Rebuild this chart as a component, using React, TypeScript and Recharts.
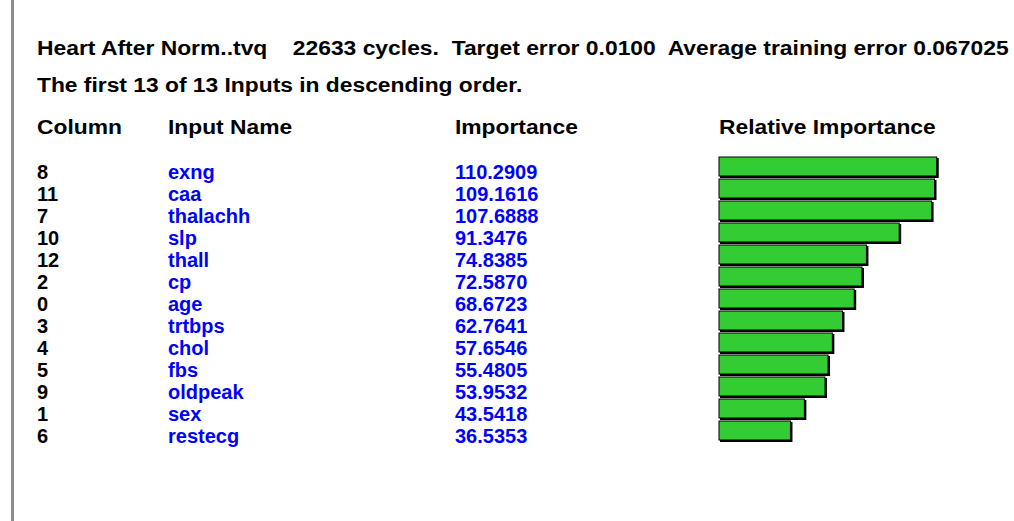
import { Bar, BarChart, XAxis, YAxis } from "recharts";

const columns = [8, 11, 7, 10, 12, 2, 0, 3, 4, 5, 9, 1, 6];
const inputNames = ["exng", "caa", "thalachh", "slp", "thall", "cp", "age", "trtbps", "chol", "fbs", "oldpeak", "sex", "restecg"];
const importance = [110.2909, 109.1616, 107.6888, 91.3476, 74.8385, 72.587, 68.6723, 62.7641, 57.6546, 55.4805, 53.9532, 43.5418, 36.5353];

const titleLine = "Heart After Norm..tvq    22633 cycles.  Target error 0.0100  Average training error 0.067025";
const subtitleLine = "The first 13 of 13 Inputs in descending order.";

const rows = inputNames.map((name, i) => ({
  name,
  column: columns[i],
  importance: importance[i]
}));

const font = '"Liberation Sans", Arial, sans-serif';

function RowTick(props: any) {
  const { y, index } = props;
  const row = rows[index];
  const ty = y + 5;
  return (
    <g fontFamily={font} fontWeight="bold" fontSize={20}>
      <text x={37} y={ty} dominantBaseline="central" fill="#000">{row.column}</text>
      <text x={168} y={ty} dominantBaseline="central" fill="#0000ff">{row.name}</text>
      <text x={455} y={ty} dominantBaseline="central" fill="#0000ff">{row.importance.toFixed(4)}</text>
    </g>
  );
}

function ShadowBar(props: any) {
  const { x, y, width, height } = props;
  return (
    <g>
      <rect x={x + 1} y={y + 1} width={width} height={height} fill="#000" />
      <rect x={x} y={y} width={width - 1} height={height - 1} fill="#33cc33" stroke="#000" strokeWidth={1} />
    </g>
  );
}

// headings are a bit wider than normal Arial
const wide = { fontSize: 20, fontWeight: "bold" as const, whiteSpace: "pre" as const, transform: "scaleX(1.14)", transformOrigin: "left center" };
const headerStyle = { ...wide, position: "absolute" as const, top: 116 };

export default function App() {
  return (
    <div style={{ position: "fixed", left: 0, top: 0, width: 1014, height: 521, background: "#fff", fontFamily: font, color: "#000" }}>
      <div style={{ position: "absolute", left: 11, top: 0, width: 3, height: 521, background: "#8c8c8c" }} />
      <div style={{ ...wide, position: "absolute", left: 37, top: 37, transform: "scaleX(1.143)" }}>{titleLine}</div>
      <div style={{ ...wide, position: "absolute", left: 37, top: 74 }}>{subtitleLine}</div>
      <div style={{ ...headerStyle, left: 37 }}>Column</div>
      <div style={{ ...headerStyle, left: 168 }}>Input Name</div>
      <div style={{ ...headerStyle, left: 455 }}>Importance</div>
      <div style={{ ...headerStyle, left: 719 }}>Relative Importance</div>
      <div style={{ position: "absolute", left: 0, top: 0 }}>
        <BarChart
          width={1014}
          height={521}
          data={rows}
          layout="vertical"
          margin={{ top: 156, right: 57, bottom: 79, left: 0 }}
          barCategoryGap={1}
        >
          <XAxis type="number" domain={[0, 120]} hide />
          <YAxis
            type="category"
            dataKey="name"
            width={719}
            axisLine={false}
            tickLine={false}
            interval={0}
            tick={<RowTick />}
          />
          <Bar dataKey="importance" barSize={20} shape={<ShadowBar />} isAnimationActive={false} />
        </BarChart>
      </div>
    </div>
  );
}
